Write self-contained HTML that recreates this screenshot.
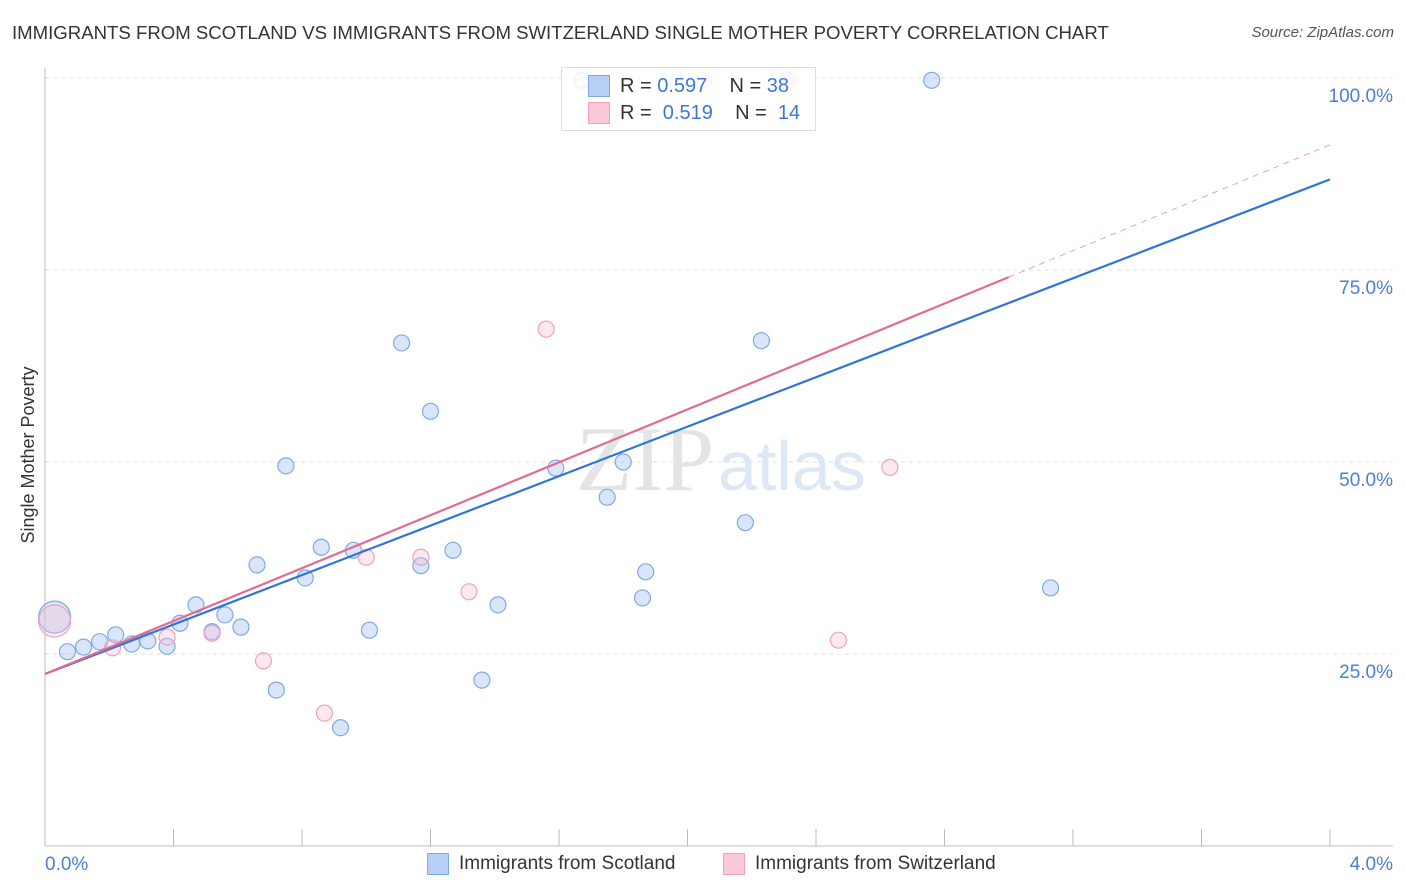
<!DOCTYPE html>
<html><head><meta charset="utf-8"><style>
body{margin:0;background:#fff;font-family:"Liberation Sans",sans-serif;}
#wrap{position:relative;width:1406px;height:892px;overflow:hidden;}
.t{position:absolute;white-space:nowrap;}
</style></head><body>
<div id="wrap">
<div class="t" style="left:12px;top:22px;font-size:18.6px;color:#333;">IMMIGRANTS FROM SCOTLAND VS IMMIGRANTS FROM SWITZERLAND SINGLE MOTHER POVERTY CORRELATION CHART</div>
<div class="t" style="right:12px;top:24px;font-size:15px;color:#555;font-style:italic;">Source: ZipAtlas.com</div>
<svg id="svg" width="1406" height="892" style="position:absolute;left:0;top:0"></svg>
</div>
<script>
const xTicks=[0,4];
const yTicks=[25,50,75,100];
const scotX=[0.03,0.07,0.12,0.17,0.22,0.27,0.32,0.38,0.42,0.47,0.52,0.56,0.61,0.66,0.72,0.75,0.81,0.86,0.92,0.96,1.01,1.11,1.17,1.20,1.27,1.36,1.41,1.59,1.67,1.75,1.80,1.86,1.87,2.18,2.23,2.31,2.76,3.13];
const scotY=[29.8,25.3,25.9,26.6,27.5,26.3,26.7,26.0,29.0,31.4,27.9,30.1,28.5,36.6,20.3,49.5,34.9,38.9,15.4,38.5,28.1,65.5,36.5,56.6,38.5,21.6,31.4,49.2,99.7,45.4,50.0,32.3,35.7,42.1,65.8,99.7,99.7,33.6];
const swisX=[0.03,0.21,0.38,0.52,0.68,0.87,1.00,1.17,1.32,1.56,2.47,2.63,2.05,2.31];
const swisY=[29.3,25.8,27.2,27.7,24.1,17.3,37.6,37.6,33.1,67.3,26.8,49.3,99.7,99.7];
const scotLine=[22.4,86.8];
const swisLine=[22.4,91.3];
const swisSolidEnd=3.0;
const X=v=>45+v*321.25, Y=v=>846-v*7.68;
const svg=document.getElementById('svg');const NS='http://www.w3.org/2000/svg';
function mk(t,a){const e=document.createElementNS(NS,t);for(const k in a)e.setAttribute(k,a[k]);svg.appendChild(e);return e;}
let e;
yTicks.forEach(v=>{e=mk('line',{x1:45,x2:1393,y1:Y(v),y2:Y(v),stroke:'#ddd','stroke-dasharray':'4,4'});


e=mk('text',{x:1393,y:Y(v)+24,'text-anchor':'end','font-size':19,fill:'#4a7fd4','font-family':'Liberation Sans'});e.textContent=v.toFixed(1)+'%';

});
e=mk('line',{x1:45,x2:45,y1:68,y2:846,stroke:'#bbb'});


e=mk('line',{x1:45,x2:1393,y1:846,y2:846,stroke:'#bbb'});


for(let i=1;i<=10;i++){e=mk('line',{x1:X(i*0.4),x2:X(i*0.4),y1:829,y2:846,stroke:'#bbb'});

}
xTicks.forEach((v,i)=>{e=mk('text',{x:i?1393:45,y:870,'text-anchor':i?'end':'start','font-size':19,fill:'#4a7fd4','font-family':'Liberation Sans'});e.textContent=v.toFixed(1)+'%';

});
e=mk('text',{x:34,y:455,'text-anchor':'middle','font-size':18,fill:'#333',transform:'rotate(-90 34 455)','font-family':'Liberation Sans'});e.textContent='Single Mother Poverty';


e=mk('text',{x:714,y:490,'text-anchor':'end','font-size':92,fill:'#e4e4e4','font-family':'Liberation Serif'});e.textContent='ZIP';


e=mk('text',{x:718,y:490,'text-anchor':'start','font-size':70,fill:'#dde8f7','font-family':'Liberation Sans'});e.textContent='atlas';


function pts(xs,ys,fill,stroke,name){xs.forEach((x,i)=>{const big=i===0;e=mk('circle',{cx:X(x),cy:Y(ys[i]),r:big?16:8,fill:fill,stroke:stroke,'stroke-width':1.2});

});}
pts(scotX,scotY,'rgba(170,200,245,0.45)','#7fa9e6','scotland-point');
pts(swisX,swisY,'rgba(250,190,210,0.35)','#eea3bb','switzerland-point');
e=mk('line',{x1:X(0),y1:Y(scotLine[0]),x2:X(4),y2:Y(scotLine[1]),stroke:'#2f74d8','stroke-width':2.2});


const ps=v=>swisLine[0]+(swisLine[1]-swisLine[0])*v/4;
e=mk('line',{x1:X(0),y1:Y(ps(0)),x2:X(swisSolidEnd),y2:Y(ps(swisSolidEnd)),stroke:'#e36a93','stroke-width':2.2});


e=mk('line',{x1:X(swisSolidEnd),y1:Y(ps(swisSolidEnd)),x2:X(4),y2:Y(ps(4)),stroke:'#eaa0b8','stroke-width':1,'stroke-dasharray':'6,5'});


</script>
<div class="t" style="left:561px;top:67px;width:253px;height:62px;border:1px solid #ddd;background:rgba(255,255,255,0.85);">
 <div class="t" style="left:26px;top:7px;width:20px;height:20px;background:#b8d0f5;border:1px solid #7fa9e6;"></div>
 <div class="t" style="left:58px;top:7px;font-size:20px;color:#333;">R = <span style="color:#3b78d8">0.597</span>&nbsp;&nbsp;&nbsp; N = <span style="color:#3b78d8">38</span></div>
 <div class="t" style="left:26px;top:34px;width:20px;height:20px;background:#fcc8d8;border:1px solid #eea3bb;"></div>
 <div class="t" style="left:58px;top:34px;font-size:20px;color:#333;">R = &nbsp;<span style="color:#3b78d8">0.519</span>&nbsp;&nbsp;&nbsp; N = &nbsp;<span style="color:#3b78d8">14</span></div>
</div>
<div class="t" style="left:427px;top:853px;width:20px;height:20px;background:#b8d0f5;border:1px solid #7fa9e6;"></div>
<div class="t" style="left:459px;top:853px;font-size:19px;color:#333;">Immigrants from Scotland</div>
<div class="t" style="left:723px;top:853px;width:20px;height:20px;background:#fcc8d8;border:1px solid #eea3bb;"></div>
<div class="t" style="left:755px;top:853px;font-size:19px;color:#333;">Immigrants from Switzerland</div>
</body></html>
